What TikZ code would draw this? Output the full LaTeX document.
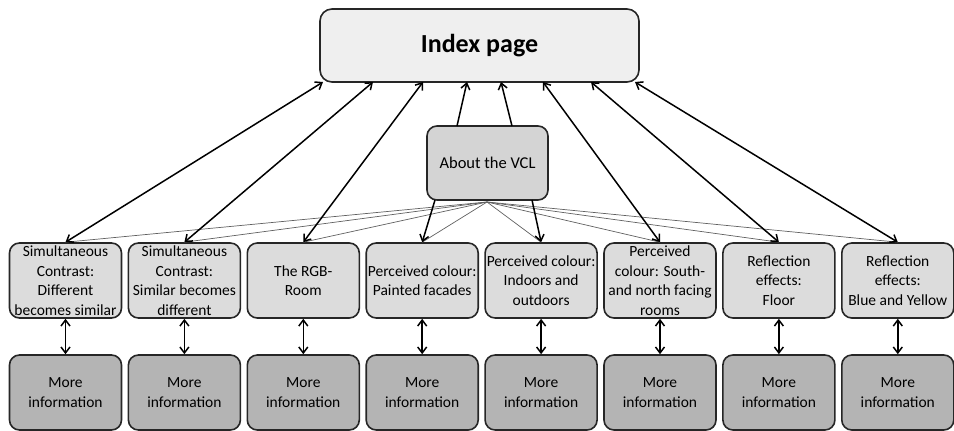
\documentclass[tikz,border=0pt]{standalone}
\usepackage{fontspec}
\setmainfont{Carlito}
\usetikzlibrary{arrows.meta}
\definecolor{idxgray}{HTML}{EFEFEF}
\definecolor{aboutgray}{HTML}{D4D4D4}
\definecolor{midgray}{HTML}{DCDCDC}
\definecolor{infogray}{HTML}{B4B4B4}
\definecolor{thingray}{HTML}{606060}
\begin{document}
\begin{tikzpicture}[x=1pt,y=-1pt,
  box/.style={draw=black!85, line width=1.6pt, rounded corners=10pt,
    minimum width=112pt, minimum height=75pt, inner sep=0pt, align=center,
    font=\fontsize{15.5}{19.5}\selectfont},
  midbox/.style={box, fill=midgray},
  infobox/.style={box, fill=infogray},
  both/.style={line width=1.5pt, black, {Straight Barb[length=6pt,width=9pt]}-{Straight Barb[length=6pt,width=9pt]}},
  one/.style={line width=1.5pt, black, -{Straight Barb[length=6pt,width=9pt]}},
  thin/.style={line width=0.7pt, thingray}
]
\useasboundingbox (0,0) rectangle (954,431);

\node[draw=black!85, line width=1.6pt, rounded corners=12pt, fill=idxgray,
  minimum width=319pt, minimum height=73pt, inner sep=0pt,
  font=\fontsize{26}{30}\selectfont\bfseries] (idx) at (479.5,45.5) {Index page};

\node[box, fill=aboutgray, minimum width=121pt, minimum height=74pt,
  font=\fontsize{16.5}{19}\selectfont] (about) at (487.5,163) {About the VCL};

\node[midbox] (m1) at (65.5,280.5) {Simultaneous\\Contrast:\\Different\\becomes similar};
\node[midbox] (m2) at (184.4,280.5) {Simultaneous\\Contrast:\\Similar becomes\\different};
\node[midbox] (m3) at (303.3,280.5) {The RGB-\\Room};
\node[midbox] (m4) at (422.2,280.5) {Perceived colour:\\Painted facades};
\node[midbox] (m5) at (541.1,280.5) {Perceived colour:\\Indoors and\\outdoors};
\node[midbox] (m6) at (660,280.5) {Perceived\\colour: South-\\and north facing\\rooms};
\node[midbox] (m7) at (778.9,280.5) {Reflection\\effects:\\Floor};
\node[midbox] (m8) at (897.8,280.5) {Reflection\\effects:\\Blue and Yellow};

\foreach \i/\x in {1/65.5,2/184.4,3/303.3,4/422.2,5/541.1,6/660,7/778.9,8/897.8}{
  \node[infobox] (b\i) at (\x,392.5) {More\\information};
  \draw[both] (m\i.south) -- (b\i.north);
}

% anchor points on the index page
\coordinate (i1) at (323,82);
\coordinate (i2) at (373,82);
\coordinate (i3) at (423,82);
\coordinate (ia) at (467,82);
\coordinate (ib) at (501,82);
\coordinate (i6) at (543,82);
\coordinate (i7) at (591,82);
\coordinate (i8) at (635,82);
% anchor points on the about box
\coordinate (at1) at (457,126);
\coordinate (at2) at (512,126);
\coordinate (ab1) at (435,200);
\coordinate (ab2) at (532,200);
\coordinate (ac) at (487,202);

% thin fan lines
\foreach \i in {1,...,8}{
  \draw[thin] (ac) -- (m\i.north);
}

\draw[both] (i1) -- (m1.north);
\draw[both] (i2) -- (m2.north);
\draw[both] (i3) -- (m3.north);
\draw[both] (i6) -- (m6.north);
\draw[both] (i7) -- (m7.north);
\draw[both] (i8) -- (m8.north);

\draw[one] (at1) -- (ia);
\draw[one] (at2) -- (ib);
\draw[one] (ab1) -- (m4.north);
\draw[one] (ab2) -- (m5.north);
\end{tikzpicture}
\end{document}
